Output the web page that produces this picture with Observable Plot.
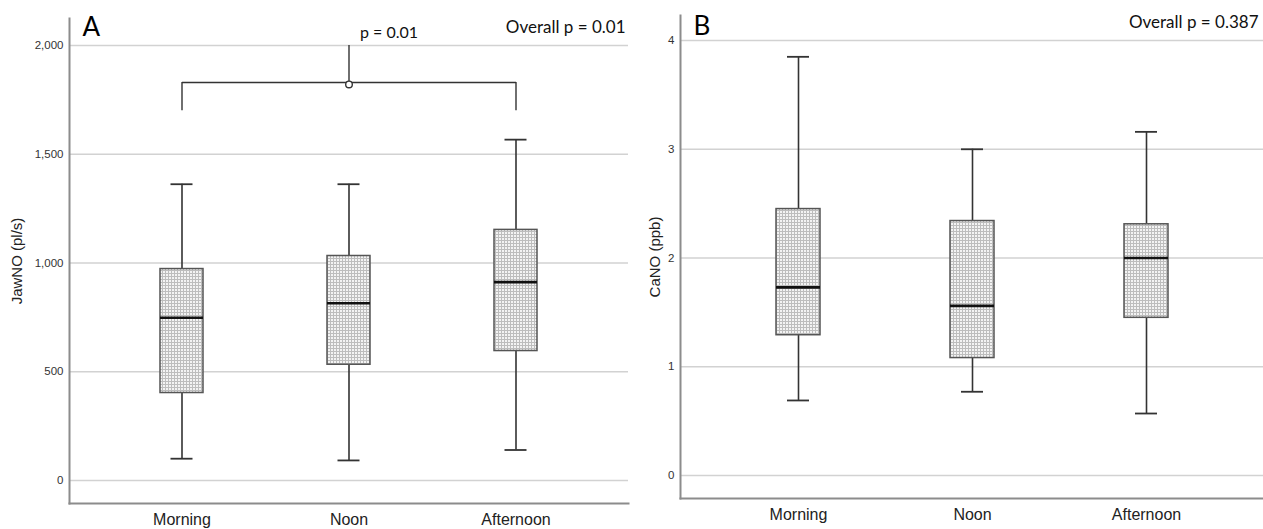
<!DOCTYPE html>
<html>
<head>
<meta charset="utf-8">
<script src="https://cdn.jsdelivr.net/npm/d3@7"></script>
<script src="https://cdn.jsdelivr.net/npm/@observablehq/plot@0.6"></script>
<style>
  html, body { margin: 0; padding: 0; background: white; }
  #wrap { position: relative; width: 1263px; height: 529px; overflow: hidden; background: white; }
  #wrap > svg { position: absolute; top: 0; }
</style>
</head>
<body>
<div id="wrap"></div>
<script>
// ---- data ----
const categories = ["Morning", "Noon", "Afternoon"];

// Panel A: JawNO (pl/s)
const jawLow  = [100, 92, 140];
const jawQ1   = [402, 532, 595];
const jawMed  = [748, 815, 912];
const jawQ3   = [972, 1032, 1152];
const jawHigh = [1362, 1362, 1567];
const jawTicks = [0, 500, 1000, 1500, 2000];

// Panel B: CaNO (ppb)
const caLow  = [0.69, 0.77, 0.57];
const caQ1   = [1.29, 1.08, 1.45];
const caMed  = [1.73, 1.56, 2.0];
const caQ3   = [2.45, 2.34, 2.31];
const caHigh = [3.85, 3.0, 3.16];
const caTicks = [0, 1, 2, 3, 4];

// significance bracket (Morning vs Afternoon) in JawNO units
const bracketFrom = "Morning", bracketTo = "Afternoon", bracketMid = "Noon";
const bracketLevel = 1830, bracketFoot = 1700, bracketSpikeTop = 2000, bracketDot = 1821;
const pairLabel = "p = 0.01";

const tickFont = "'Liberation Sans Narrow', 'Liberation Sans', Arial, sans-serif";
const labelFont = "'Liberation Sans', Arial, sans-serif";
const textFont = "Lato, 'Open Sans', sans-serif";

function rowsOf(low, q1, med, q3, high) {
  return categories.map((c, i) => ({cat: c, low: low[i], q1: q1[i], med: med[i], q3: q3[i], high: high[i]}));
}

function addPattern(svg, id) {
  const ns = "http://www.w3.org/2000/svg";
  const defs = document.createElementNS(ns, "defs");
  defs.innerHTML = `<pattern id="${id}" width="3" height="3" patternUnits="userSpaceOnUse">
    <rect width="3" height="3" fill="#f3f3f3"/>
    <rect x="0" y="0" width="3" height="1" fill="#bdbdbd"/>
    <rect x="0" y="0" width="1" height="3" fill="#bdbdbd"/>
  </pattern>`;
  svg.insertBefore(defs, svg.firstChild);
}

function boxMarks(rows, patId, inset) {
  return [
    Plot.ruleX(rows, {x: "cat", y1: "low", y2: "q1", stroke: "#333", strokeWidth: 1.6}),
    Plot.ruleX(rows, {x: "cat", y1: "q3", y2: "high", stroke: "#333", strokeWidth: 1.6}),
    Plot.tickY(rows, {x: "cat", y: "low", inset, stroke: "#333", strokeWidth: 1.8}),
    Plot.tickY(rows, {x: "cat", y: "high", inset, stroke: "#333", strokeWidth: 1.8}),
    Plot.barY(rows, {x: "cat", y1: "q1", y2: "q3", fill: `url(#${patId})`, stroke: "#555", strokeWidth: 1.5}),
    Plot.tickY(rows, {x: "cat", y: "med", stroke: "#111", strokeWidth: 2.6})
  ];
}

function commonMarks(ticks, fmt, ylabel, labelDx, xPad) {
  return [
    Plot.ruleY(ticks, {stroke: "#d2d2d2", strokeWidth: 1.6}),
    Plot.axisY(ticks, {tickSize: 0, tickPadding: 6, tickFormat: fmt, fontSize: 11.5, fill: "#333", fontFamily: tickFont, label: null}),
    Plot.axisX({tickSize: 0, tickPadding: xPad, fontSize: 16, fill: "#222", fontFamily: tickFont, label: null}),
    Plot.frame({anchor: "left", stroke: "#8c8c8c", strokeWidth: 2}),
    Plot.frame({anchor: "bottom", stroke: "#8c8c8c", strokeWidth: 2}),
    Plot.text([ylabel], {frameAnchor: "left", textAnchor: "middle", dx: labelDx, rotate: -90, fontSize: 15, fill: "#222", fontFamily: labelFont})
  ];
}

const wrap = document.getElementById("wrap");

// ---- Panel A ----
const rowsA = rowsOf(jawLow, jawQ1, jawMed, jawQ3, jawHigh);
const svgA = Plot.plot({
  width: 635, height: 529,
  marginLeft: 69, marginRight: 7, marginTop: 18, marginBottom: 26,
  x: {type: "band", domain: categories, paddingInner: 0.743, paddingOuter: 0.545},
  y: {domain: [-106, 2124]},
  style: {fontFamily: tickFont, background: "transparent"},
  marks: [
    ...commonMarks(jawTicks, d3.format(","), "JawNO (pl/s)", -52, 10),
    ...boxMarks(rowsA, "patA", 10.5),
    // bracket
    Plot.link([{a: bracketFrom, b: bracketTo, y: bracketLevel}], {x1: "a", x2: "b", y1: "y", y2: "y", stroke: "#333", strokeWidth: 1.4}),
    Plot.ruleX([bracketFrom, bracketTo], {x: d => d, y1: () => bracketFoot, y2: () => bracketLevel, stroke: "#333", strokeWidth: 1.4}),
    Plot.ruleX([bracketMid], {x: d => d, y1: () => bracketLevel, y2: () => bracketSpikeTop, stroke: "#333", strokeWidth: 1.4}),
    Plot.dot([bracketMid], {x: d => d, y: () => bracketDot, r: 3.3, fill: "white", stroke: "#333", strokeWidth: 1.4}),
    Plot.text([pairLabel], {x: () => bracketMid, y: () => 2060, dx: 11, textAnchor: "start", fontSize: 16, fill: "#111", fontFamily: textFont}),
    Plot.text(["Overall p = 0.01"], {frameAnchor: "top-right", dx: -3, dy: 2, fontSize: 17, fill: "#111", fontFamily: textFont}),
    Plot.text(["A"], {frameAnchor: "top-left", dx: 13, dy: -1, fontSize: 26, fill: "#000", fontFamily: textFont})
  ]
});
addPattern(svgA, "patA");
svgA.style.left = "0px";
wrap.appendChild(svgA);

// ---- Panel B ----
const rowsB = rowsOf(caLow, caQ1, caMed, caQ3, caHigh);
const svgB = Plot.plot({
  width: 628, height: 529,
  marginLeft: 45, marginRight: 0, marginTop: 15, marginBottom: 31,
  x: {type: "band", domain: categories, paddingInner: 0.748, paddingOuter: 0.5445},
  y: {domain: [-0.2115, 4.23]},
  style: {fontFamily: tickFont, background: "transparent"},
  marks: [
    ...commonMarks(caTicks, d3.format("d"), "CaNO (ppb)", -25, 10),
    ...boxMarks(rowsB, "patB", 11),
    Plot.text(["Overall p = 0.387"], {frameAnchor: "top-right", dx: -5, dy: 0, fontSize: 17, fill: "#111", fontFamily: textFont}),
    Plot.text(["B"], {frameAnchor: "top-left", dx: 13, dy: 1, fontSize: 26, fill: "#000", fontFamily: textFont})
  ]
});
addPattern(svgB, "patB");
svgB.style.left = "635px";
wrap.appendChild(svgB);
</script>
</body>
</html>
